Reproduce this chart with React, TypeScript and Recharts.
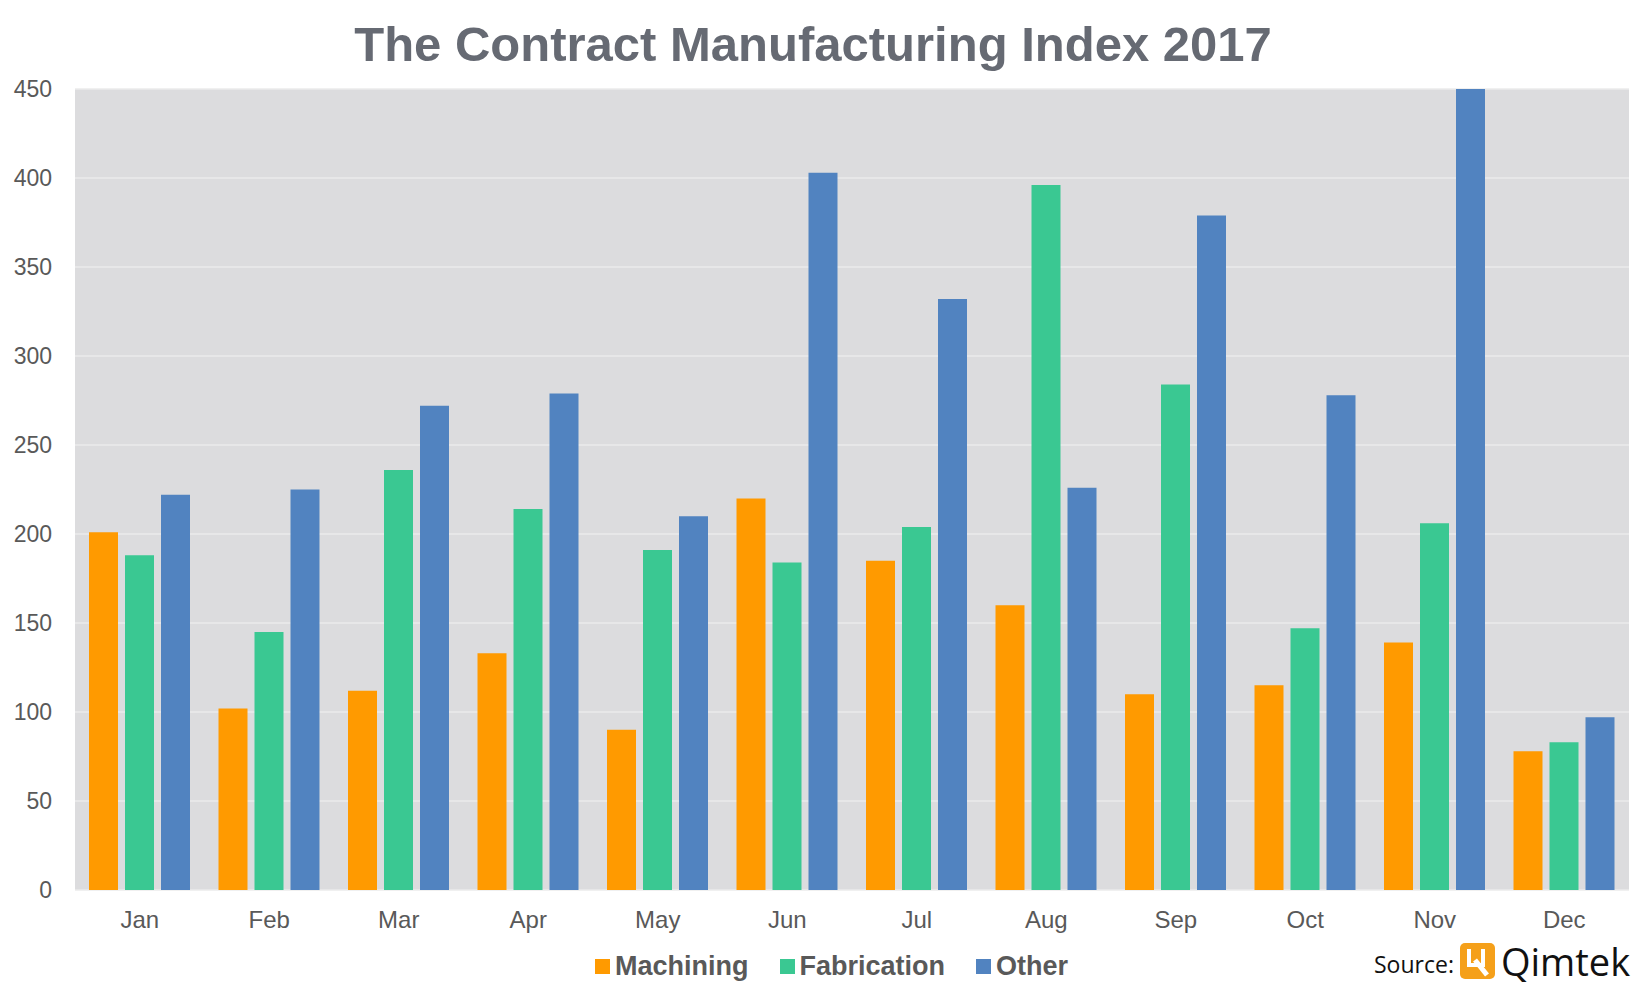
import { BarChart, Bar, XAxis, YAxis, CartesianGrid } from "recharts";

const MONTHS = ["Jan", "Feb", "Mar", "Apr", "May", "Jun", "Jul", "Aug", "Sep", "Oct", "Nov", "Dec"];
const MACHINING = [201, 102, 112, 133, 90, 220, 185, 160, 110, 115, 139, 78];
const FABRICATION = [188, 145, 236, 214, 191, 184, 204, 396, 284, 147, 206, 83];
const OTHER = [222, 225, 272, 279, 210, 403, 332, 226, 379, 278, 450, 97];
const Y_TICKS = [0, 50, 100, 150, 200, 250, 300, 350, 400, 450];

const SERIES = [
  { key: "machining", name: "Machining", color: "#ff9a00" },
  { key: "fabrication", name: "Fabrication", color: "#3ac892" },
  { key: "other", name: "Other", color: "#5183c0" },
];

const data = MONTHS.map((month, i) => ({
  month,
  machining: MACHINING[i],
  fabrication: FABRICATION[i],
  other: OTHER[i],
}));

const FONT = '"Liberation Sans", Arial, sans-serif';
const TEXT_GREY = "#595959";

const App = () => {
  return (
    <div
      style={{
        position: "absolute",
        left: 0,
        top: 0,
        width: 1652,
        height: 1002,
        background: "#fff",
        fontFamily: FONT,
      }}
    >
      <div
        style={{
          position: "absolute",
          left: 0,
          top: 14,
          width: 1626,
          textAlign: "center",
          fontSize: 49,
          fontWeight: 700,
          color: "#666a73",
          lineHeight: "60px",
        }}
      >
        The Contract Manufacturing Index 2017
      </div>

      <BarChart
        width={1652}
        height={1002}
        data={data}
        margin={{ top: 89, right: 23, bottom: 72, left: 0 }}
        barCategoryGap={"10%"}
        barGap={7}
        barSize={29}
      >
        <CartesianGrid
          vertical={false}
          fill="#dcdcde"
          stroke="#ebebeb"
          strokeWidth={1.5}
        />
        <XAxis
          dataKey="month"
          height={40}
          axisLine={false}
          tickLine={false}
          tickMargin={15}
          tick={{ fontSize: 24, fill: TEXT_GREY, fontFamily: FONT }}
          interval={0}
        />
        <YAxis
          width={75}
          domain={[0, 450]}
          ticks={Y_TICKS}
          allowDataOverflow
          axisLine={false}
          tickLine={false}
          tickMargin={17}
          tick={{ fontSize: 23, fill: TEXT_GREY, fontFamily: FONT }}
        />
        {SERIES.map((s) => (
          <Bar
            key={s.key}
            dataKey={s.key}
            name={s.name}
            fill={s.color}
            isAnimationActive={false}
          />
        ))}
      </BarChart>

      {/* legend */}
      <div
        style={{
          position: "absolute",
          left: 595,
          top: 949,
          display: "flex",
          alignItems: "center",
          gap: 31,
        }}
      >
        {SERIES.map((s) => (
          <div key={s.key} style={{ display: "flex", alignItems: "center", gap: 5 }}>
            <span style={{ width: 15, height: 15, background: s.color, display: "inline-block" }} />
            <span style={{ fontSize: 27, fontWeight: 700, color: TEXT_GREY, lineHeight: "34px" }}>
              {s.name}
            </span>
          </div>
        ))}
      </div>

      {/* source */}
      <div
        style={{
          position: "absolute",
          left: 1374,
          top: 941,
          display: "flex",
          alignItems: "center",
          gap: 6,
        }}
      >
        <span style={{ fontFamily: '"Open Sans", sans-serif', fontSize: 23, color: "#111", marginTop: 6 }}>
          Source:
        </span>
        <svg width={35} height={36} viewBox="0 0 35 36">
          <rect x={0} y={0} width={35} height={36} rx={5} fill="#f5a01a" />
          <path d="M9 6 v16 h14 v-16" stroke="#fff" strokeWidth={4} fill="none" />
          <path d="M15 17 L27 32" stroke="#fff" strokeWidth={5} />
        </svg>
        <span style={{ fontFamily: '"Open Sans", sans-serif', fontSize: 38, color: "#111", lineHeight: "40px" }}>
          Qimtek
        </span>
      </div>
    </div>
  );
};

export default App;
